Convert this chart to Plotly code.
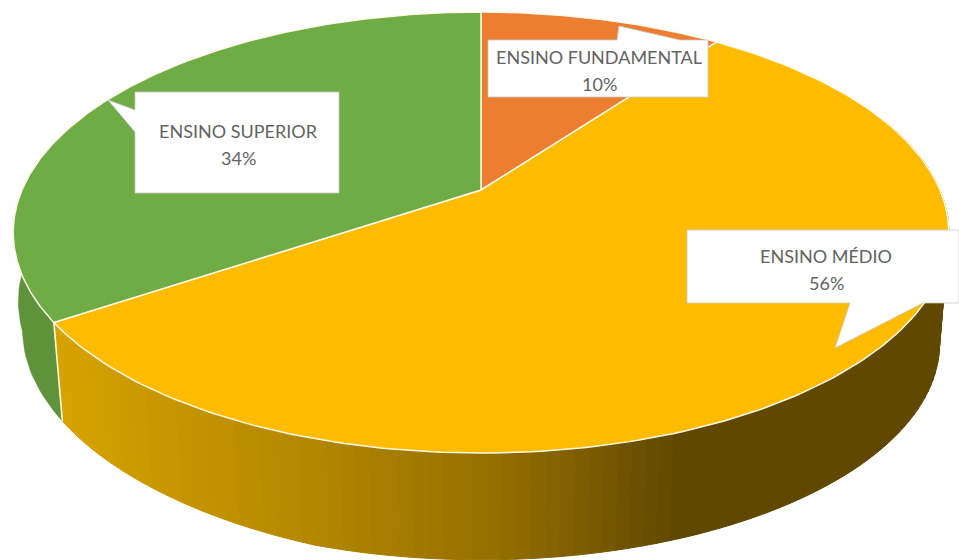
import numpy as np
import plotly.graph_objects as go

categories = ["ENSINO FUNDAMENTAL", "ENSINO MÉDIO", "ENSINO SUPERIOR"]
percent_labels = ["10%", "56%", "34%"]
shares = [10.1, 55.5, 34.4]
top_colors = ["#ED7D31", "#FEBC00", "#6FAC46"]
green_wall = "#5E923B"
wall_x = [64, 320, 500, 680, 959]
wall_rgb = [(214, 162, 0), (178, 134, 0), (148, 111, 0), (96, 72, 0), (96, 72, 0)]

# Perspective pie geometry (pixels)
CX, CY = 481.0, 190.0
A, B, K = 459.0, 212.3, 0.193
DEPTH, SCALE = 112.0, 0.98


def top_rim(deg):
    t = np.radians(deg)
    X, Y = np.sin(t), np.cos(t)
    w = 1 + K * Y
    return CX + A * X / w, CY - B * Y / w


def bottom_rim(deg):
    t = np.radians(deg)
    X, Y = np.sin(t), np.cos(t)
    w = 1 + K * Y
    lift = 20 * np.maximum(0, -X - 0.3)
    widen = 60 * np.maximum(0, Y + 0.2) * (X < 0)
    return CX + SCALE * A * X / w - widen, CY + DEPTH - SCALE * B * Y / w - lift


def ramp(x):
    return "rgb(%d,%d,%d)" % tuple(
        np.interp(x, wall_x, [c[i] for c in wall_rgb]) for i in range(3))


edges = np.cumsum([0] + shares) * 3.6
fig = go.Figure()


def poly(x, y, fill, line=None, width=0.0):
    fig.add_trace(go.Scatter(
        x=list(x) + [x[0]], y=list(y) + [y[0]], mode="lines", fill="toself",
        fillcolor=fill, line=dict(color=line or fill, width=width),
        hoverinfo="skip", showlegend=False))


# side wall of the two front slices
med_end = edges[2]

# green wall
g = np.linspace(med_end, 285, 40)
tx, ty = top_rim(g)
bx, by = bottom_rim(g)
poly(np.r_[tx, bx[::-1]], np.r_[ty, by[::-1]], green_wall, green_wall, 0.5)

# gradient yellow wall, strip by strip
strips = np.r_[np.arange(70, med_end, 1.5), med_end]
for a0, a1 in zip(strips[:-1], strips[1:]):
    pair = np.array([a0, a1])
    tx, ty = top_rim(pair)
    bx, by = bottom_rim(pair)
    c = ramp(tx.mean())
    poly([tx[0], tx[1], bx[1], bx[0]], [ty[0], ty[1], by[1], by[0]], c, c, 1.0)

# white vertical edge between the walls
ex0, ey0 = top_rim(med_end)
ex1, ey1 = bottom_rim(med_end)
fig.add_trace(go.Scatter(x=[ex0, ex1], y=[ey0, ey1], mode="lines",
                         line=dict(color="#FFF8DC", width=1.6),
                         hoverinfo="skip", showlegend=False))

# top face slices
for i in range(3):
    a = np.linspace(edges[i], edges[i + 1], 200)
    x, y = top_rim(a)
    poly(np.r_[CX, x], np.r_[CY, y], top_colors[i], "#FFF9E8", 1.5)

# callouts: rectangle + pointer, drawn as white polygons
callouts = [
    ([488, 617, 619, 680, 708, 708, 488], [40, 40, 26, 40, 40, 97, 97]),
    ([687, 959, 959, 923, 835, 850, 687], [230, 230, 303, 303, 348, 303, 303]),
    ([135, 339, 339, 135, 135, 108, 135], [92, 92, 193, 193, 132, 100, 110]),
]
for x, y in callouts:
    poly(x, y, "#FFFFFF", "#C8C8C8", 0.8)

label_xy = [(599, 57, 84), (826, 256, 283), (238, 131, 158)]
for name, p, (lx, ly1, ly2) in zip(categories, percent_labels, label_xy):
    for txt, ly in ((name, ly1), (p, ly2)):
        fig.add_annotation(x=lx, y=ly, text=txt, showarrow=False,
                           font=dict(family="Lato", size=18, color="#636363"),
                           align="center", xanchor="center", yanchor="middle")

fig.update_xaxes(range=[0, 959], visible=False, fixedrange=True)
fig.update_yaxes(range=[560, 0], visible=False, fixedrange=True)
fig.update_layout(width=959, height=560, margin=dict(l=0, r=0, t=0, b=0),
                  plot_bgcolor="white", paper_bgcolor="white", showlegend=False)
fig.write_html("out.html", config={"displayModeBar": False},
               post_script="document.body.style.margin='0';")
